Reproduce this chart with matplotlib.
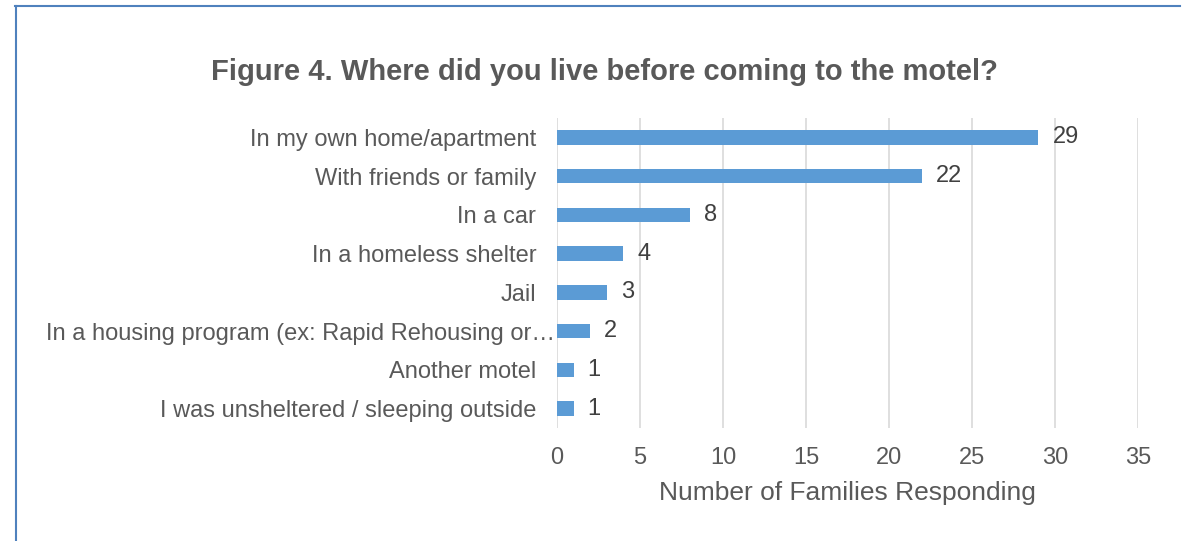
import matplotlib.pyplot as plt
import matplotlib.transforms as mtransforms
from matplotlib.lines import Line2D

categories = [
    "In my own home/apartment",
    "With friends or family",
    "In a car",
    "In a homeless shelter",
    "Jail",
    "In a housing program (ex: Rapid Rehousing or\u2026",
    "Another motel",
    "I was unsheltered / sleeping outside",
]
counts = [29, 22, 8, 4, 3, 2, 1, 1]
xticks = [0, 5, 10, 15, 20, 25, 30, 35]

plt.rcParams['font.family'] = ['Liberation Sans', 'DejaVu Sans']
txt = '#595959'

fig = plt.figure(figsize=(11.9, 5.41), dpi=100)
ax = fig.add_axes([557 / 1190, 1 - 428 / 541, (1138 - 557) / 1190, (428 - 118) / 541])

pos = list(range(len(categories)))
ax.barh(pos, counts, height=0.37, color='#5b9bd5', zorder=3)
for p, v in zip(pos, counts):
    ax.text(v + 0.85, p, str(v), va='center', ha='left', fontsize=17, color='#404040')

ax.set_ylim(len(categories) - 0.5, -0.5)
ax.set_yticks(pos)
ax.set_yticklabels(categories, fontsize=17, color=txt)
ax.set_xlim(0, 35)
ax.set_xticks(xticks)
ax.set_xticklabels([str(t) for t in xticks], fontsize=17, color=txt)
ax.tick_params(axis='x', length=0, pad=14)
ax.tick_params(axis='y', length=0, pad=15)
ax.grid(axis='x', color='#d9d9d9', linewidth=1.2, zorder=0)
for s in ax.spines.values():
    s.set_visible(False)
ax.set_xlabel("Number of Families Responding", fontsize=19, color=txt, labelpad=8)

# the truncated label runs its ellipsis up to the bar
for lab in ax.get_yticklabels():
    if lab.get_text().endswith('\u2026'):
        shift = mtransforms.ScaledTranslation(19 / 100, 0, fig.dpi_scale_trans)
        lab.set_transform(lab.get_transform() + shift)

fig.text(604 / 1190, 1 - 72 / 541, "Figure 4. Where did you live before coming to the motel?",
         ha='center', va='center', fontsize=21, fontweight='bold', color=txt)

# frame lines on top and left
fig.add_artist(Line2D([15 / 1190, 1180 / 1190], [1 - 6 / 541] * 2, color='#4f81bd', lw=1.5))
fig.add_artist(Line2D([16 / 1190] * 2, [0, 1 - 6 / 541], color='#4f81bd', lw=1.5))

fig.savefig('out.png', dpi=100)
